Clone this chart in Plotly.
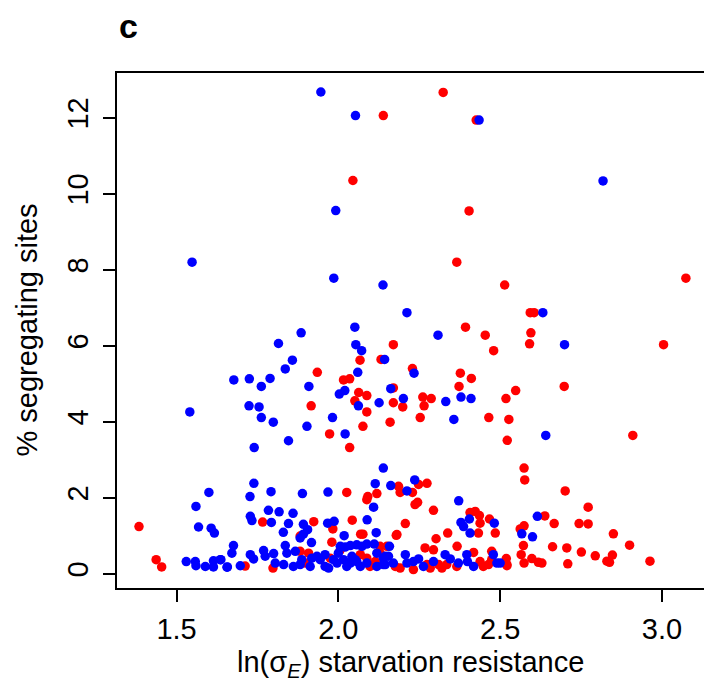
import plotly.graph_objects as go

# ---- data ----
blue_x = [1.946, 2.053, 1.992, 1.548, 1.986, 2.138, 2.435, 2.818, 2.212, 2.632,
          2.051, 1.885, 1.815, 2.054, 2.072, 1.858, 2.143, 1.836, 2.060, 1.677,
          1.725, 1.789, 1.762, 1.909, 2.162, 2.003, 2.020, 2.062, 2.126, 2.201,
          1.724, 1.755, 1.541, 1.762, 1.982, 1.799, 1.903, 2.021, 1.846, 1.740,
          2.139, 2.308, 2.699, 2.234, 2.379, 2.410, 2.332, 2.357, 2.641, 2.236,
          1.739, 2.114, 2.162, 1.600, 1.792, 1.889, 1.968, 1.727, 2.212, 2.372,
          1.560, 1.568, 1.607, 1.617, 1.530, 1.558, 1.560, 1.589, 1.614, 1.614,
          1.637, 1.657, 2.109, 1.784, 1.817, 1.860, 1.728, 1.733, 1.793, 1.846,
          1.892, 1.967, 1.987, 2.089, 1.830, 1.905, 1.892, 1.882, 1.917, 2.018,
          2.117, 1.676, 1.671, 1.635, 1.656, 1.697, 1.728, 1.738, 1.769, 1.774,
          1.800, 1.805, 1.836, 1.841, 1.831, 1.867, 1.861, 1.887, 1.882, 1.918,
          1.913, 1.934, 1.944, 1.959, 1.970, 1.959, 1.985, 1.996, 2.000, 2.016,
          2.026, 2.042, 2.037, 2.052, 2.006, 2.021, 2.037, 2.057, 2.073, 2.088,
          2.111, 2.119, 2.145, 2.057, 2.068, 2.088, 2.119, 2.139, 2.155, 2.158,
          2.379, 2.387, 2.405, 2.407, 2.482, 2.615, 2.567, 2.600, 2.139, 2.145,
          2.170, 2.207, 2.212, 2.232, 2.248, 2.263, 2.294, 2.330, 2.346, 2.371,
          2.397, 2.399, 2.418, 2.479, 2.490, 2.500]
blue_y = [12.68, 12.06, 9.56, 8.20, 7.78, 7.60, 11.94, 10.34, 6.87, 6.87,
          6.49, 6.34, 6.06, 6.03, 5.87, 5.62, 5.64, 5.39, 5.30, 5.10,
          5.13, 5.14, 4.93, 4.93, 4.87, 4.73, 4.82, 4.42, 4.50, 4.61,
          4.42, 4.39, 4.26, 4.11, 4.11, 3.99, 3.88, 3.68, 3.50, 3.32,
          2.78, 6.28, 6.03, 5.28, 4.65, 4.61, 4.53, 4.06, 3.64, 2.47,
          2.38, 2.37, 2.32, 2.14, 2.16, 2.11, 2.15, 2.03, 2.18, 1.92,
          1.77, 1.23, 1.20, 1.07, 0.32, 0.32, 0.21, 0.19, 0.34, 0.18,
          0.37, 0.18, 1.75, 1.67, 1.63, 1.59, 1.51, 1.40, 1.35, 1.32,
          1.30, 1.33, 1.38, 1.42, 1.09, 1.16, 1.04, 0.94, 0.82, 1.00,
          1.08, 0.74, 0.54, 0.37, 0.17, 0.21, 0.50, 0.39, 0.61, 0.46,
          0.53, 0.28, 0.74, 0.54, 0.24, 0.59, 0.19, 0.37, 0.24, 0.41,
          0.19, 0.46, 0.37, 0.50, 0.15, 0.19, 0.37, 0.28, 0.54, 0.37,
          0.19, 0.46, 0.28, 0.37, 0.72, 0.70, 0.74, 0.76, 0.72, 0.78,
          0.78, 0.54, 0.46, 0.32, 0.19, 0.28, 0.19, 0.24, 0.46, 0.72,
          1.35, 1.24, 1.44, 1.07, 1.33, 1.51, 1.05, 0.97, 0.41, 0.24,
          0.28, 0.50, 0.28, 0.32, 0.39, 0.19, 0.32, 0.50, 0.39, 0.28,
          0.50, 0.32, 0.19, 0.50, 0.28, 0.28]

red_x = [2.139, 2.045, 2.324, 2.426, 2.404, 2.366, 3.074, 2.514, 2.593, 2.605,
         2.170, 2.067, 2.132, 1.935, 2.016, 2.035, 2.170, 2.063, 2.088, 2.051,
         2.170, 1.916, 2.088, 2.160, 2.076, 1.973, 2.035, 2.393, 2.454, 2.595,
         2.591, 3.005, 2.480, 2.229, 2.377, 2.411, 2.373, 2.698, 2.548, 2.518,
         2.261, 2.287, 2.199, 2.265, 2.253, 2.465, 2.527, 2.910, 2.522, 2.574,
         2.576, 2.026, 2.119, 2.091, 2.186, 2.248, 2.274, 2.191, 2.229, 2.701,
         2.088, 1.384, 1.437, 1.454, 1.712, 1.798, 1.766, 1.924, 1.983, 2.043,
         1.882, 1.980, 2.069, 2.076, 2.179, 1.882, 1.908, 1.898, 1.975, 2.006,
         2.068, 2.088, 2.098, 2.114, 2.129, 2.150, 2.772, 2.237, 2.245, 2.294,
         2.407, 2.423, 2.436, 2.467, 2.638, 2.207, 2.438, 2.574, 2.667, 2.744,
         2.772, 2.562, 2.181, 2.338, 2.433, 2.485, 2.850, 2.302, 2.900, 2.367,
         2.572, 2.662, 2.706, 2.751, 2.794, 2.847, 2.830, 2.838, 2.963, 2.709,
         2.565, 2.598, 2.618, 2.629, 2.574, 2.268, 2.294, 2.418, 2.474, 2.519,
         2.521, 2.129, 2.176, 2.191, 2.232, 2.274, 2.284, 2.310, 2.320, 2.335,
         2.366, 2.438, 2.448, 2.464, 2.474, 2.521]
red_y = [12.06, 10.35, 12.67, 11.94, 9.55, 8.20, 7.78, 7.60, 6.87, 6.87,
         6.03, 5.62, 5.64, 5.30, 5.10, 5.13, 4.89, 4.77, 4.69, 4.55,
         4.50, 4.42, 4.26, 3.99, 3.88, 3.68, 3.32, 6.49, 6.28, 6.34,
         6.05, 6.03, 5.87, 5.40, 5.28, 5.14, 4.93, 4.93, 4.82, 4.61,
         4.65, 4.61, 4.39, 4.42, 4.11, 4.11, 4.06, 3.64, 3.51, 2.78,
         2.47, 2.14, 2.11, 2.03, 2.30, 2.35, 2.38, 2.14, 2.14, 2.18,
         1.95, 1.24, 0.37, 0.18, 0.20, 0.15, 1.36, 1.37, 1.18, 1.41,
         0.99, 0.83, 1.04, 1.04, 1.01, 0.59, 0.54, 0.28, 0.41, 0.63,
         0.50, 0.41, 0.19, 0.32, 0.54, 0.72, 1.75, 1.82, 1.88, 1.67,
         1.61, 1.64, 1.53, 1.44, 1.52, 1.32, 1.33, 1.26, 1.32, 1.32,
         1.31, 1.18, 1.03, 1.07, 1.07, 1.07, 1.05, 0.92, 0.75, 0.72,
         0.74, 0.71, 0.68, 0.57, 0.47, 0.49, 0.33, 0.30, 0.33, 0.26,
         0.50, 0.40, 0.30, 0.28, 0.28, 0.68, 0.63, 0.56, 0.59, 0.40,
         0.21, 0.72, 0.19, 0.15, 0.11, 0.24, 0.15, 0.24, 0.15, 0.24,
         0.19, 0.32, 0.19, 0.24, 0.37, 0.24]

x_ticks = [1.5, 2.0, 2.5, 3.0]
x_tick_labels = ["1.5", "2.0", "2.5", "3.0"]
y_ticks = [0, 2, 4, 6, 8, 10, 12]
y_tick_labels = ["0", "2", "4", "6", "8", "10", "12"]

FONT = "Liberation Sans, Arial, Helvetica, sans-serif"

fig = go.Figure()
fig.add_trace(go.Scatter(x=red_x, y=red_y, mode="markers",
                         marker=dict(color="#FF0000", size=9.5, line=dict(width=0))))
fig.add_trace(go.Scatter(x=blue_x, y=blue_y, mode="markers",
                         marker=dict(color="#0000FF", size=9.5, line=dict(width=0))))

axis_common = dict(showgrid=False, zeroline=False, showline=True, linecolor="black",
                   linewidth=1.5, ticks="outside", ticklen=12, tickwidth=1.5,
                   tickcolor="black", tickfont=dict(family=FONT, size=29, color="black"))

fig.update_layout(
    width=704, height=688,
    margin=dict(l=117, r=0, t=73, b=100),
    paper_bgcolor="white", plot_bgcolor="white",
    showlegend=False,
    xaxis=dict(range=[1.316, 3.130], tickvals=x_ticks, ticktext=x_tick_labels,
               mirror=True, ticklabelstandoff=2, **axis_common),
    yaxis=dict(range=[-0.376, 13.18], tickvals=y_ticks, ticktext=y_tick_labels,
               tickangle=-90, mirror=False, ticklabelstandoff=4, **axis_common),
    annotations=[
        dict(text="<b>c</b>", xref="paper", yref="paper", x=0.0, y=1.092,
             xanchor="left", yanchor="middle", showarrow=False,
             font=dict(family=FONT, size=34, color="black")),
        dict(text="ln(σ<sub><i>E</i></sub>) starvation resistance", xref="paper", yref="paper",
             x=0.5, y=-0.147, xanchor="center", yanchor="middle", showarrow=False,
             font=dict(family=FONT, size=29, color="black")),
        dict(text="% segregating sites", xref="paper", yref="paper",
             x=-0.155, y=0.5, xanchor="center", yanchor="middle", showarrow=False,
             textangle=-90, font=dict(family=FONT, size=29, color="black")),
    ],
)

fig.write_html("out.html")
